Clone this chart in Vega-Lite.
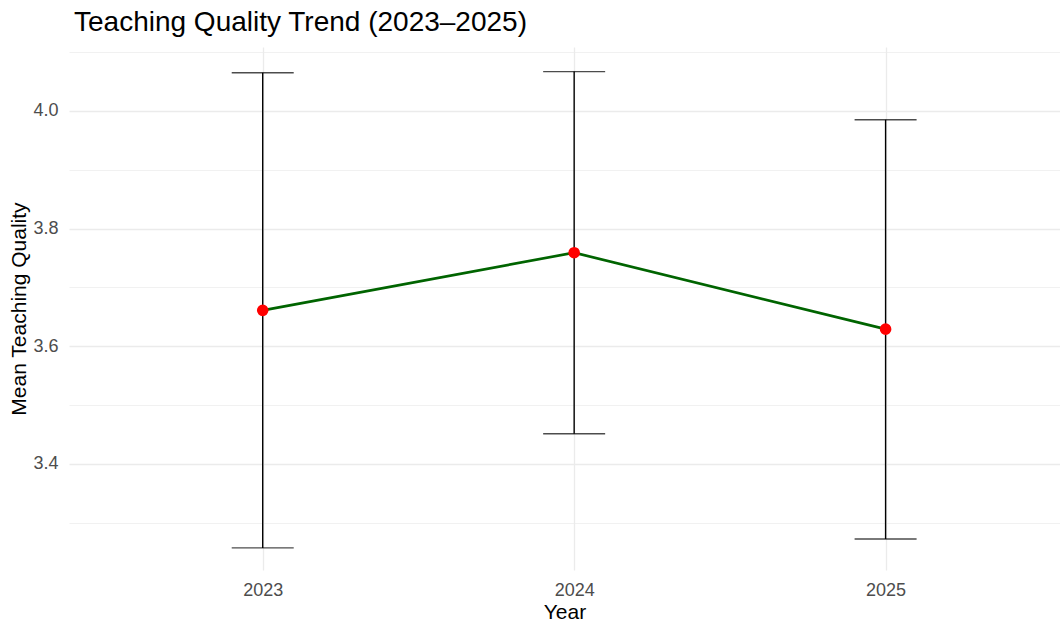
{
  "$schema": "https://vega.github.io/schema/vega-lite/v6.json",
  "width": 991,
  "height": 523,
  "autosize": {"type": "none"},
  "padding": {"left": 69, "top": 47, "right": 0, "bottom": 53},
  "background": "white",
  "title": {
    "text": "Teaching Quality Trend (2023–2025)",
    "anchor": "start",
    "frame": "group",
    "font": "Liberation Sans",
    "fontSize": 28,
    "fontWeight": "normal",
    "color": "#000000",
    "offset": 10,
    "dx": 5
  },
  "config": {
    "view": {"stroke": null},
    "axis": {
      "domain": false,
      "ticks": false,
      "gridColor": "#EBEBEB",
      "labelFont": "Liberation Sans",
      "titleFont": "Liberation Sans",
      "labelColor": "#4D4D4D",
      "labelFontSize": 18,
      "titleFontSize": 21,
      "titleFontWeight": "normal",
      "titleColor": "#000000"
    }
  },
  "data": {
    "values": [
      {"year": 2023, "mean": 3.661, "lower": 3.257, "upper": 4.065},
      {"year": 2024, "mean": 3.759, "lower": 3.451, "upper": 4.067},
      {"year": 2025, "mean": 3.629, "lower": 3.272, "upper": 3.985}
    ]
  },
  "encoding": {
    "x": {
      "field": "year",
      "type": "quantitative",
      "scale": {"domain": [2022.378, 2025.56], "nice": false, "zero": false},
      "axis": {
        "values": [2023, 2024, 2025],
        "format": "d",
        "title": "Year",
        "labelPadding": 11,
        "titlePadding": 2,
        "gridWidth": 1.3
      }
    }
  },
  "layer": [
    {
      "mark": {"type": "rule", "color": "#000000", "strokeWidth": 1.4},
      "encoding": {
        "y": {
          "field": "lower",
          "type": "quantitative",
          "scale": {"domain": [3.2194, 4.1088], "nice": false, "zero": false},
          "axis": {
            "values": [3.3, 3.4, 3.5, 3.6, 3.7, 3.8, 3.9, 4.0, 4.1],
            "labelExpr": "round(datum.value * 10) % 2 == 0 ? format(datum.value, '.1f') : ''",
            "title": "Mean Teaching Quality",
            "labelPadding": 11,
            "titlePadding": 3,
            "gridWidth": {
              "condition": {"test": "round(datum.value * 10) % 2 == 0", "value": 1.3},
              "value": 0.7
            }
          }
        },
        "y2": {"field": "upper"}
      }
    },
    {
      "mark": {"type": "tick", "orient": "horizontal", "color": "#000000", "size": 62, "thickness": 1.4},
      "encoding": {"y": {"field": "lower", "type": "quantitative"}}
    },
    {
      "mark": {"type": "tick", "orient": "horizontal", "color": "#000000", "size": 62, "thickness": 1.4},
      "encoding": {"y": {"field": "upper", "type": "quantitative"}}
    },
    {
      "mark": {"type": "line", "color": "#006400", "strokeWidth": 2.7},
      "encoding": {"y": {"field": "mean", "type": "quantitative"}}
    },
    {
      "mark": {"type": "point", "filled": true, "color": "#FF0000", "opacity": 1, "size": 135},
      "encoding": {"y": {"field": "mean", "type": "quantitative"}}
    }
  ]
}
